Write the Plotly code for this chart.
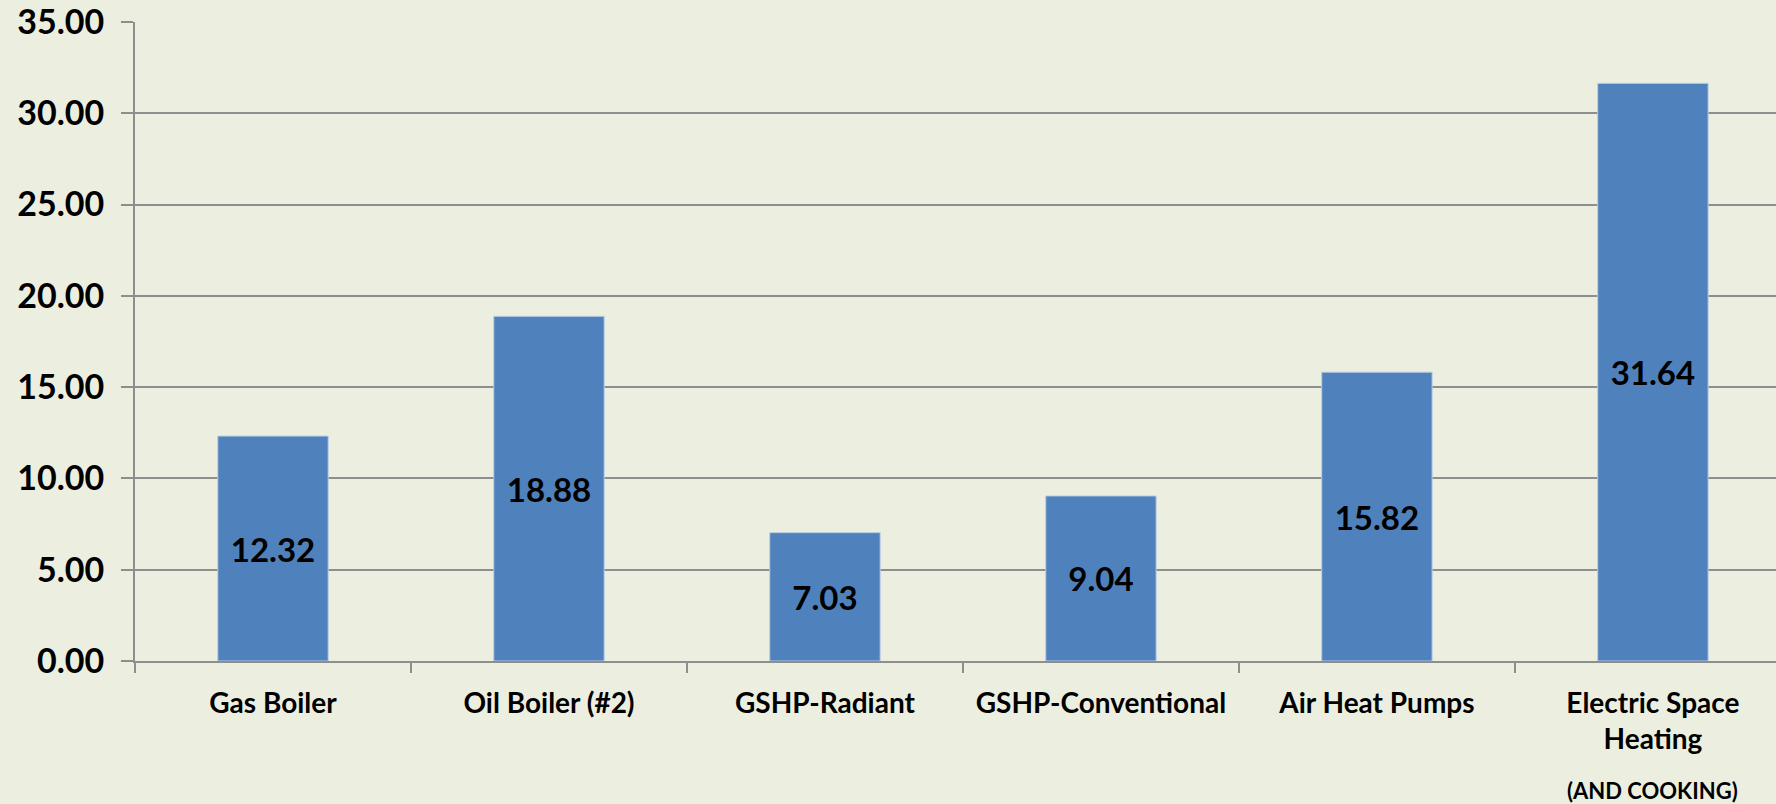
import plotly.graph_objects as go

categories = ["Gas Boiler", "Oil Boiler (#2)", "GSHP-Radiant", "GSHP-Conventional",
              "Air Heat Pumps", "Electric Space Heating"]
tick_labels = ["Gas Boiler", "Oil Boiler (#2)", "GSHP-Radiant", "GSHP-Conventional",
               "Air Heat Pumps", "Electric Space<br>Heating"]
values = [12.32, 18.88, 7.03, 9.04, 15.82, 31.64]
value_labels = [f"{v:.2f}" for v in values]
y_ticks = [0, 5, 10, 15, 20, 25, 30, 35]
y_tick_labels = [f"{v:.2f}" for v in y_ticks]
note = "(AND COOKING)"

BG = "#ECEFE0"
GRID = "#8E8E8E"
FONT = "Lato"

fig = go.Figure()
fig.add_trace(go.Bar(
    x=categories, y=values,
    text=value_labels, textposition="inside", insidetextanchor="middle",
    textfont=dict(family=FONT, size=33, color="black", weight="bold"),
    marker=dict(color="#4F81BD", line=dict(color="#B9CDE5", width=1)),
    width=0.4, cliponaxis=False,
))

fig.add_annotation(
    x=categories[-1], y=0, xref="x", yref="paper",
    yshift=-129, yanchor="middle", showarrow=False,
    text=note, font=dict(family=FONT, size=22, color="black", weight="bold"),
)

fig.update_layout(
    width=1776, height=804,
    margin=dict(l=135, r=0, t=22, b=143),
    paper_bgcolor=BG, plot_bgcolor=BG,
    showlegend=False,
    bargap=0.6,
)
fig.update_xaxes(
    type="category", categoryorder="array", categoryarray=categories,
    tickvals=categories, ticktext=tick_labels,
    range=[-0.5, 5.446],
    tickson="boundaries", ticks="outside", ticklen=10, tickwidth=2, tickcolor=GRID,
    showline=True, linecolor=GRID, linewidth=2,
    tickfont=dict(family=FONT, size=28, color="black", weight="bold"),
    ticklabelstandoff=16, ticklabeloverflow="allow",
    showgrid=False, tickangle=0,
)
fig.update_yaxes(
    range=[0, 35], tickvals=y_ticks, ticktext=y_tick_labels,
    showgrid=True, gridcolor=GRID, gridwidth=2,
    ticks="outside", ticklen=12, tickwidth=2, tickcolor=GRID,
    showline=True, linecolor=GRID, linewidth=2,
    zeroline=False,
    tickfont=dict(family=FONT, size=34, color="black", weight="bold"),
    ticklabelstandoff=10, ticklabeloverflow="allow",
)

fig.write_html(
    "out.html",
    config={"displayModeBar": False},
    post_script="document.body.style.margin='0';document.body.style.overflow='hidden';",
)
